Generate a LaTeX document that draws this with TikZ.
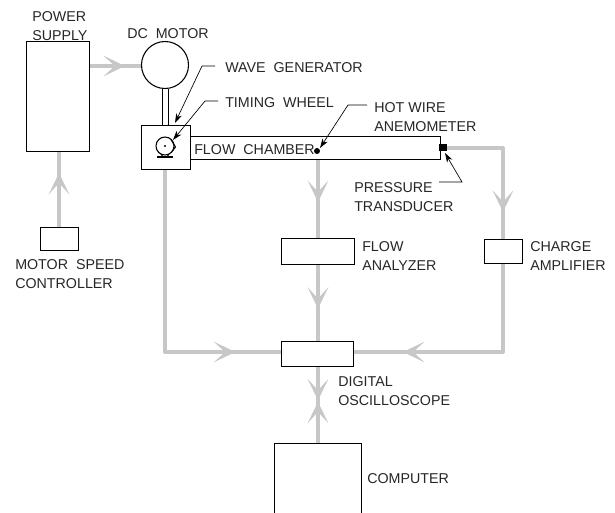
\documentclass[tikz,border=0pt]{standalone}
\usepackage{fontspec}
\setmainfont{Liberation Sans}
\usetikzlibrary{arrows.meta,decorations.markings}

\newcommand{\wsp}{\ \hspace{3pt}}
\tikzset{
  unit/.style={draw,line width=0.8pt,fill=white,inner sep=0pt,anchor=north west},
  lbl/.style={inner sep=0pt,anchor=north west,align=left,font=\fontsize{10.7}{14.25}\selectfont,text=black!85},
  leader/.style={line width=0.5pt,-{Stealth[length=7pt,width=4.5pt,inset=2pt]}},
  wire/.style={draw=black!22,line width=3pt},
  tip/.style={postaction={decorate,decoration={markings,mark=at position #1 with {\arrow[black!22]{Stealth[length=16pt,width=15.5pt,inset=8.5pt]}}}}}
}

\begin{document}
\begin{tikzpicture}[x=0.75pt,y=-0.75pt]
\useasboundingbox (0,0) rectangle (615,512);
% signal lines first, boxes sit on top
\coordinate (hotwire) at (317,151);
\coordinate (hotbase) at (318,151);
\coordinate (corner1) at (503,148);
\coordinate (corner2) at (503,352);
\coordinate (corner3) at (165,352);
\coordinate (wheelbase) at (165,158);
\coordinate (sensor) at (443,148);
\coordinate (amptop) at (503,239);
\coordinate (ampbot) at (503,263);
\coordinate (oscl) at (281,352);
\coordinate (oscr) at (353,352);
\coordinate (osct) at (318,341);
\coordinate (oscb) at (318,366);
\coordinate (anatop) at (318,238);
\coordinate (anabot) at (318,264);
\coordinate (comptop) at (318,444);
\coordinate (ctltop) at (59,227);
\coordinate (supbot) at (59,151);
\coordinate (supright) at (89,66);
\coordinate (motleft) at (141,66);
\coordinate (oscmid) at (318,401);

\draw[wire,tip=0.69] (supright) -- (motleft);
\draw[wire,tip=0.71] (ctltop) -- (supbot);
\draw[wire,tip=0.586] (hotbase) -- (anatop);
\draw[wire,tip=0.58] (anabot) -- (osct);
\draw[wire,line join=round,tip=0.852] (wheelbase) -- (corner3) -- (oscl);
\draw[wire,line join=round,tip=0.82] (sensor) -- (corner1) -- (amptop);
\draw[wire,line join=round,tip=0.79] (ampbot) -- (corner2) -- (oscr);
\draw[wire,tip=0.98] (oscb) -- (oscmid);
\draw[wire,tip=0.98] (comptop) -- (oscmid);

% boxes
\node[unit,minimum width=63pt*0.75,minimum height=110pt*0.75] (supply) at (26,41) {};
\node[unit,minimum width=38pt*0.75,minimum height=23pt*0.75] (control) at (40,227) {};
\node[unit,minimum width=73pt*0.75,minimum height=26pt*0.75] (analyzer) at (281,238) {};
\node[unit,minimum width=38pt*0.75,minimum height=24pt*0.75] (amplifier) at (484,239) {};
\node[unit,minimum width=72pt*0.75,minimum height=25pt*0.75] (scope) at (281,341) {};
\draw[line width=0.8pt,fill=white] (274.5,513) -- (274.5,443.5) -- (361.5,443.5) -- (361.5,513);
\node[unit,minimum width=250pt*0.75,minimum height=23pt*0.75] (chamber) at (190,136) {};
\node[unit,minimum width=49pt*0.75,minimum height=44pt*0.75] (drive) at (141,125) {};
\node[draw,line width=0.8pt,fill=white,circle,minimum size=47pt*0.75,inner sep=0pt] (motor) at (165,65) {};
\draw[line width=0.8pt] (162.5,88.5) -- (162.5,125) (168.5,88.5) -- (168.5,125);
\fill (439,144) rectangle (447,151);
\fill (hotwire) circle (3);

% wheel in the drive box
\draw[line width=0.8pt] (165,146) circle (9);
\draw[line width=0.8pt] (171,139.5) -- (175.5,147) -- (172,151.5);
\fill (165,146) circle (1.2);
\draw[line width=1.4pt] (157,157) -- (173,157);
\draw[line width=0.8pt] (161,154) -- (163,157) (169,154) -- (167,157);

% leaders
\node[lbl] (wave) at (225,62) {WAVE\wsp GENERATOR};
\node[lbl] (timing) at (225,97) {TIMING\wsp WHEEL};
\node[lbl] (hot) at (374,102) {HOT WIRE\\ANEMOMETER};
\node[lbl] (pressure) at (354,182) {PRESSURE\\TRANSDUCER};
\draw[leader] (215,66) -- (202,66) -- (175,123);
\draw[leader] (218,101) -- (205,101) -- (173,140);
\draw[leader] (367,105) -- (348,105) -- (320,148);
\draw[leader] (439,182) -- (462,182) -- (445,153);

% names
\node[lbl] (supplytxt) at (32,11) {POWER\\SUPPLY};
\node[lbl] (motortxt) at (127,28) {DC\wsp MOTOR};
\node[lbl] (chambertxt) at (194,144) {FLOW\wsp CHAMBER};
\node[lbl] (flowtxt) at (362,241) {FLOW\\ANALYZER};
\node[lbl] (amptxt) at (530,241) {CHARGE\\AMPLIFIER};
\node[lbl] (controltxt) at (15,259) {MOTOR\wsp SPEED\\CONTROLLER};
\node[lbl] (scopetxt) at (338,376) {DIGITAL\\OSCILLOSCOPE};
\node[lbl] (computertxt) at (367,473) {COMPUTER};
\end{tikzpicture}
\end{document}
